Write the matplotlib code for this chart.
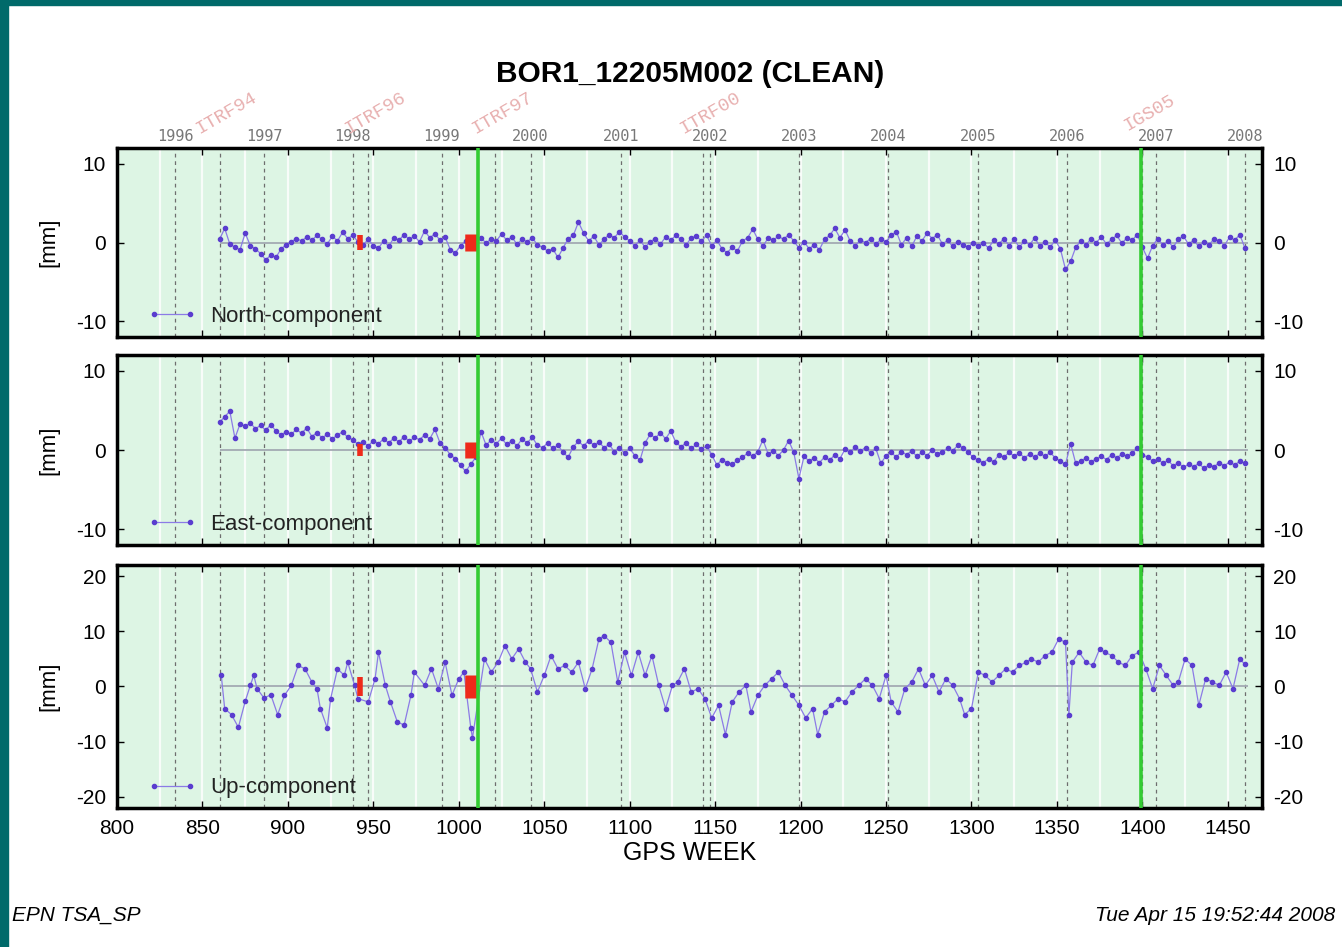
import numpy as np
import matplotlib
matplotlib.use("Agg")
import matplotlib.pyplot as plt
from matplotlib.patches import Rectangle

plt.rcParams["font.family"] = ["Liberation Sans", "DejaVu Sans"]
plt.rcParams["axes.unicode_minus"] = False

# GPS weeks of the north/east series (one sample every 3 weeks)
weeks_ne = np.arange(860, 1461, 3)

north = [0.4, 1.8, -0.2, -0.6, -0.9, 1.2, -0.4, -0.8, -1.4, -2.2,
         -1.6, -1.9, -0.8, -0.3, 0.1, 0.5, 0.2, 0.7, 0.3, 0.9,
         0.4, -0.2, 0.8, 0.2, 1.3, 0.5, 0.9, 0.1, -0.3, 0.4,
         -0.4, -0.7, 0.2, -0.5, 0.6, 0.3, 1.0, 0.4, 0.8, 0.1,
         1.5, 0.6, 1.1, 0.3, 0.7, -0.9, -1.3, -0.4, 0.2, -0.6,
         0.3, 0.6, -0.1, 0.5, 0.2, 1.1, 0.3, 0.7, -0.2, 0.4,
         0.1, 0.6, -0.3, -0.6, -1.1, -0.8, -1.9, -0.7, 0.5, 0.9,
         2.6, 1.2, 0.2, 0.8, -0.3, 0.4, 1.0, 0.6, 1.4, 0.7,
         0.2, -0.4, 0.3, -0.6, 0.1, 0.5, -0.2, 0.7, 0.3, 0.9,
         0.4, -0.3, 0.6, 0.8, 0.2, 0.9, -0.4, 0.3, -0.8, -1.3,
         -0.6, -1.1, 0.2, 0.6, 1.7, 0.4, -0.5, 0.6, 0.3, 0.8,
         0.4, 1.0, 0.2, -0.7, 0.1, -0.8, -0.3, -0.9, 0.4, 0.9,
         1.8, 0.6, 1.6, 0.2, -0.4, 0.3, 0.0, 0.5, -0.2, 0.4,
         0.1, 0.9, 1.4, -0.3, 0.6, -0.5, 0.8, 0.2, 1.2, 0.5,
         1.0, -0.2, 0.3, -0.5, 0.1, -0.3, -0.6, 0.0, -0.4, -0.1,
         -0.7, 0.3, -0.2, 0.5, -0.4, 0.4, -0.6, 0.2, -0.3, 0.6,
         -0.5, 0.1, -0.6, 0.3, -0.8, -3.4, -2.4, -0.6, 0.2, -0.3,
         0.5, 0.0, 0.7, -0.2, 0.4, 0.9, -0.1, 0.6, 0.3, 1.0,
         -0.6, -2.0, -0.4, 0.5, -0.3, 0.2, -0.6, 0.4, 0.8, -0.2,
         0.3, -0.5, 0.1, -0.3, 0.5, 0.2, -0.4, 0.7, 0.3, 1.0,
         -0.7]

east = [3.5, 4.2, 4.9, 1.5, 3.3, 3.0, 3.4, 2.7, 3.1, 2.5,
        3.2, 2.4, 1.9, 2.3, 2.0, 2.6, 2.1, 2.8, 1.7, 2.2,
        1.5, 2.0, 1.4, 1.9, 2.3, 1.6, 1.3, 0.7, 1.0, 0.5,
        1.2, 0.8, 1.4, 0.9, 1.5, 1.0, 1.7, 1.1, 1.6, 1.3,
        1.9, 1.4, 2.6, 0.9, 0.3, -0.6, -1.1, -1.9, -2.7, -1.8,
        -0.9, 2.3, 0.6, 1.3, 0.8, 1.5, 0.7, 1.2, 0.5, 1.4,
        0.9, 1.6, 0.6, 0.3, 0.9, 0.2, 0.6, -0.3, -0.9, 0.4,
        1.1, 0.5, 1.2, 0.6, 1.0, 0.3, 0.7, -0.2, 0.3, -0.4,
        0.2, -0.7, -1.3, 0.9, 2.0, 1.5, 2.2, 1.4, 2.4, 1.0,
        0.4, 0.9, 0.2, 0.7, 0.1, 0.5, -0.6, -1.9, -1.2, -1.6,
        -1.8, -1.3, -0.9, -0.4, -0.8, -0.2, 1.3, -0.5, -0.1, -0.7,
        0.0, 1.2, -0.3, -3.6, -0.8, -1.4, -1.0, -1.6, -0.9, -1.3,
        -0.6, -1.1, 0.1, -0.3, 0.4, -0.1, 0.3, -0.4, 0.2, -1.7,
        -0.7, -0.3, -0.9, -0.2, -0.6, -0.1, -0.8, -0.3, -0.7, 0.0,
        -0.5, -0.2, 0.2, -0.1, 0.6, 0.3, -0.3, -0.9, -1.3, -1.6,
        -1.1, -1.5, -0.6, -0.9, -0.3, -0.8, -0.4, -1.0, -0.5, -0.9,
        -0.4, -0.8, -0.3, -1.0, -1.4, -1.8, 0.8, -1.7, -1.4, -1.0,
        -1.5, -1.1, -0.8, -1.2, -0.6, -1.0, -0.5, -0.8, -0.4, 0.2,
        -0.6, -0.9, -1.4, -1.1, -1.7, -1.3, -2.0, -1.6, -2.2, -1.8,
        -2.1, -1.7, -2.3, -1.9, -2.1, -1.6, -2.0, -1.5, -1.9, -1.4,
        -1.7]

# up component, read at roughly 4-week spacing
weeks_up = [861, 863, 867, 871, 875, 878, 880, 882, 886, 890,
            894, 898, 902, 906, 910, 914, 917, 919, 923, 925,
            929, 933, 935, 939, 941, 947, 951, 953, 957, 960,
            964, 968, 972, 974, 980, 984, 988, 992, 996, 1000,
            1003, 1007, 1008, 1015, 1019, 1023, 1027, 1031, 1035, 1039,
            1042, 1046, 1050, 1054, 1058, 1062, 1066, 1070, 1074, 1078,
            1082, 1085, 1089, 1093, 1097, 1101, 1105, 1109, 1113, 1117,
            1121, 1125, 1128, 1132, 1136, 1140, 1144, 1148, 1152, 1156,
            1160, 1164, 1168, 1171, 1175, 1179, 1183, 1187, 1191, 1195,
            1199, 1203, 1207, 1210, 1214, 1218, 1222, 1226, 1230, 1234,
            1238, 1242, 1246, 1250, 1253, 1257, 1261, 1265, 1269, 1273,
            1277, 1281, 1285, 1289, 1293, 1296, 1300, 1304, 1308, 1312,
            1316, 1320, 1324, 1328, 1332, 1335, 1339, 1343, 1347, 1351,
            1355, 1357, 1359, 1363, 1367, 1371, 1375, 1378, 1382, 1386,
            1390, 1394, 1398, 1402, 1406, 1410, 1414, 1418, 1421, 1425,
            1429, 1433, 1437, 1441, 1445, 1449, 1453, 1457, 1460]
up = [2.0, -4.0, -5.1, -7.4, -2.7, 0.2, 2.0, -0.4, -2.1, -1.5,
      -5.1, -1.6, 0.2, 3.8, 3.2, 0.8, -0.4, -4.0, -7.5, -2.2,
      3.2, 2.0, 4.4, 0.2, -2.2, -2.8, 1.4, 6.2, 0.2, -2.8,
      -6.4, -7.0, -1.6, 2.6, 0.2, 3.2, -0.4, 4.4, -1.6, 1.4,
      2.6, -7.5, -9.3, 5.0, 2.6, 4.4, 7.4, 5.0, 6.8, 4.4,
      3.2, -1.0, 2.0, 5.6, 3.2, 3.8, 2.6, 4.4, -0.4, 3.2,
      8.6, 9.2, 8.0, 0.8, 6.2, 2.0, 6.2, 2.0, 5.6, 0.2,
      -4.0, 0.2, 0.8, 3.2, -1.0, -0.4, -2.2, -5.7, -3.4, -8.7,
      -2.8, -1.0, 0.2, -4.6, -1.6, 0.2, 1.4, 2.6, 0.2, -1.6,
      -3.4, -5.7, -4.0, -8.7, -4.6, -3.4, -2.2, -2.8, -1.0, 0.2,
      1.4, 0.2, -2.2, 2.0, -2.8, -4.6, -0.4, 0.8, 3.2, 0.2,
      2.0, -1.0, 1.4, 0.2, -2.2, -5.1, -4.0, 2.6, 2.0, 0.8,
      2.0, 3.2, 2.6, 3.8, 4.4, 5.0, 4.4, 5.6, 6.2, 8.6,
      8.0, -5.1, 4.4, 6.2, 4.4, 3.8, 6.8, 6.2, 5.6, 4.4,
      3.8, 5.6, 6.2, 3.2, -0.4, 3.8, 2.0, 0.2, 0.8, 5.0,
      3.8, -3.4, 1.4, 0.8, 0.2, 2.6, -0.4, 5.0, 4.0]

components = ["North-component", "East-component", "Up-component"]
x_ticks = [800, 850, 900, 950, 1000, 1050, 1100, 1150, 1200, 1250, 1300, 1350, 1400, 1450]
years = ["1996", "1997", "1998", "1999", "2000", "2001", "2002",
         "2003", "2004", "2005", "2006", "2007", "2008"]
year_weeks = [834, 886, 938, 990, 1042, 1095, 1147, 1199, 1251, 1304, 1356, 1408, 1460]
frames = ["ITRF94", "ITRF96", "ITRF97", "ITRF00", "IGS05"]
frame_weeks = [860, 947, 1021, 1143, 1400]
green_weeks = [1011, 1399]
offset_weeks = [942, 1007]
offset_half = [[0.9, 1.1], [0.8, 1.0], [1.8, 2.0]]   # half heights of red offset bars

fig = plt.figure(figsize=(13.42, 9.47), dpi=100)
fig.patch.set_facecolor("white")
# teal page border (top and left)
fig.patches.append(Rectangle((0, 0), 8 / 1342, 1, transform=fig.transFigure,
                             color="#006a6a", zorder=0))
fig.patches.append(Rectangle((0, 1 - 5 / 947), 1, 5 / 947, transform=fig.transFigure,
                             color="#006a6a", zorder=0))

positions = [[0.0872, 0.6441, 0.8532, 0.1996],
             [0.0872, 0.4245, 0.8532, 0.2006],
             [0.0872, 0.1468, 0.8532, 0.2566]]
series = [(weeks_ne, north), (weeks_ne, east), (weeks_up, up)]
ylims = [(-12, 12), (-12, 12), (-22, 22)]
yticks = [[-10, 0, 10], [-10, 0, 10], [-20, -10, 0, 10, 20]]

for k in range(3):
    ax = fig.add_axes(positions[k])
    ax.set_facecolor("#ddf5e4")
    ax.set_xlim(800, 1470)
    ax.set_ylim(*ylims[k])

    # light stripes every 25 weeks
    for w in range(800, 1471, 25):
        ax.axvline(w, color="white", lw=1.6, alpha=0.8, zorder=1)
    for w in year_weeks + frame_weeks:
        ax.axvline(w, color="#6e6e6e", lw=0.9, ls=(0, (3, 3)), zorder=2)
    ax.hlines(0, 860, 1462, color="#a3aab3", lw=1.3, zorder=2)

    wk, val = series[k]
    ax.plot(wk, val, color="#8c7be6", lw=0.9, marker="o", ms=3.0,
            mfc="#5a3dcf", mec="#5a3dcf", zorder=3, label=components[k])

    for j, w in enumerate(offset_weeks):
        h = offset_half[k][j]
        ax.vlines(w, -h, h, color="#ee2a1a", lw=4 if j == 0 else 9, zorder=4)
    for w in green_weeks:
        ax.axvline(w, color="#33cc33", lw=2.6, zorder=5)

    ax.set_yticks(yticks[k])
    ax.set_xticks(x_ticks)
    ax.tick_params(axis="both", direction="in", length=5, width=1,
                   labelsize=15, right=True, top=True, labelright=True,
                   labelbottom=(k == 2), pad=8)
    for s in ax.spines.values():
        s.set_linewidth(2.5)
    ax.set_ylabel("[mm]", fontsize=16, labelpad=12)

    leg = ax.legend(loc="lower left", frameon=False, fontsize=16, numpoints=2,
                    handlelength=2.2, handletextpad=0.6, borderaxespad=0.2,
                    bbox_to_anchor=(0.015, -0.015))
    for t in leg.get_texts():
        t.set_color("#222222")

    if k == 0:
        sec = ax.secondary_xaxis("top")
        sec.set_xticks(year_weeks)
        sec.set_xticklabels(years, family="DejaVu Sans Mono", color="#777777", fontsize=11)
        sec.tick_params(direction="in", length=0, pad=3)
        for name, w in zip(frames, frame_weeks):
            ax.annotate(name, xy=(w, 1), xycoords=("data", "axes fraction"),
                        xytext=(5, 25), textcoords="offset points",
                        rotation=30, ha="center", va="center",
                        family="Liberation Mono", fontsize=13.5, color="#e8b0b0")
    if k == 2:
        ax.set_xlabel("GPS WEEK", fontsize=18, labelpad=2)

fig.text(0.514, 1 - 74 / 947, "BOR1_12205M002 (CLEAN)", ha="center", va="center",
         fontsize=21.5, fontweight="bold")
fig.text(12 / 1342, 1 - 915 / 947, "EPN TSA_SP", ha="left", va="center",
         fontsize=15, style="italic")
fig.text(1335 / 1342, 1 - 915 / 947, "Tue Apr 15 19:52:44 2008", ha="right", va="center",
         fontsize=15, style="italic")

fig.savefig("out.png", dpi=100)
